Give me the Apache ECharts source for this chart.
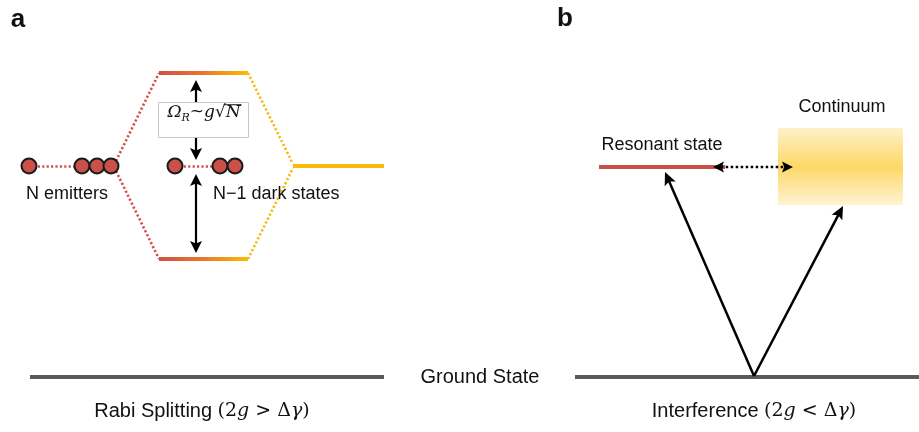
<!DOCTYPE html>
<html>
<head>
<meta charset="utf-8">
<script src="https://cdn.jsdelivr.net/npm/echarts@6/dist/echarts.min.js"></script>
<style>
  html, body { margin: 0; padding: 0; background: #ffffff; }
  #chart { width: 919px; height: 432px; }
</style>
</head>
<body>
<div id="chart"></div>
<script>
// Diagram geometry in plot units (x to the right, y downward).
// Segments are [x1, y1, x2, y2]; points are [x, y]; boxes are [left, top, right, bottom].
const splitLevels = [[159, 73, 248, 73], [159, 259, 248, 259]];
const cavityLevel = [[293, 166, 384, 166]];
const resonantLevel = [[599, 167, 725, 167]];
const groundLevels = [[30, 377, 384, 377], [575, 377, 919, 377]];

const emitterDots = [[29, 166], [82, 166], [97, 166], [111, 166]];
const darkStateDots = [[175, 166], [220, 166], [235, 166]];

const redDottedLinks = [[29, 166, 82, 166], [175, 166, 220, 166], [116, 161, 159, 73], [116, 171, 159, 259]];
const yellowDottedLinks = [[248, 73, 293, 164], [248, 259, 293, 168]];

const rabiArrows = [[196, 102, 196, 80], [196, 137, 196, 160]];
const rabiDoubleArrows = [[196, 174, 196, 253]];
const excitationArrows = [[754, 376, 665, 172], [754, 376, 843, 206]];
const couplingArrows = [[713, 167, 793, 167]];

const continuumBox = [[778, 128, 903, 205]];
const formulaBox = [[158, 102, 248, 137]];

const labelTexts = [
  'a', 'b', 'N emitters', 'N\u22121 dark states', 'Resonant state', 'Continuum', 'Ground State',
  '{s|Rabi Splitting }{m|(2}{i|g}{m| > \u0394}{i|\u03b3}{m|)}',
  '{s|Interference }{m|(2}{i|g}{m| < \u0394}{i|\u03b3}{m|)}'
];
const labelAnchors = [[18, 20], [565, 19], [67, 194], [213, 194], [662, 145], [842, 107], [480, 377], [202, 411], [754, 411]];

// Formula glyphs: Ω_R ~ g √N
const formulaGlyphs = ['\u03a9', 'R', '~', 'g', '\u221a', 'N'];

// ---------------------------------------------------------------------------
const SANS = '"Liberation Sans", Arial, sans-serif';
const SERIF = '"DejaVu Serif", serif';
const RED = '#c9514a';
const GOLD = '#f8bb08';

const labelStyles = [
  { fontSize: 26, fontWeight: 'bold', align: 'center' },
  { fontSize: 26, fontWeight: 'bold', align: 'center' },
  { fontSize: 18, align: 'center' },
  { fontSize: 18, align: 'left' },
  { fontSize: 18, align: 'center' },
  { fontSize: 18, align: 'center' },
  { fontSize: 20, align: 'center' },
  { fontSize: 20, align: 'center', math: true },
  { fontSize: 20, align: 'center', math: true }
];

const glyphStyles = [
  { size: 17, italic: true, dy: 0 },
  { size: 11, italic: true, dy: 4 },
  { size: 17, italic: false, dy: -1 },
  { size: 17, italic: true, dy: 0 },
  { size: 17, italic: false, dy: 0 },
  { size: 17, italic: true, dy: 0, over: true }
];

const measureCtx = document.createElement('canvas').getContext('2d');
function glyphFont(g) {
  return (g.italic ? 'italic ' : '') + g.size + 'px ' + SERIF;
}
function measure(text, font) {
  measureCtx.font = font;
  return measureCtx.measureText(text).width;
}

function segData(list) {
  return list.map(s => ({ coords: [[s[0], s[1]], [s[2], s[3]]] }));
}

function levelSeries(list, width, color, type) {
  return {
    type: 'lines',
    coordinateSystem: 'cartesian2d',
    silent: true,
    z: 2,
    lineStyle: { color: color, width: width, opacity: 1, type: type || 'solid', cap: 'butt' },
    data: segData(list)
  };
}

function arrowHead(tip, dir, len, wid, color) {
  const nx = -dir[1], ny = dir[0];
  const bx = tip[0] - dir[0] * len, by = tip[1] - dir[1] * len;
  const notch = [tip[0] - dir[0] * len * 0.8, tip[1] - dir[1] * len * 0.8];
  return {
    type: 'polygon',
    shape: { points: [tip, [bx + nx * wid / 2, by + ny * wid / 2], notch, [bx - nx * wid / 2, by - ny * wid / 2]] },
    style: { fill: color }
  };
}

function arrowSeries(list, opts) {
  return {
    type: 'custom',
    coordinateSystem: 'cartesian2d',
    silent: true,
    z: 5,
    data: list,
    renderItem: function (params, api) {
      const p0 = api.coord([api.value(0), api.value(1)]);
      const p1 = api.coord([api.value(2), api.value(3)]);
      const dx = p1[0] - p0[0], dy = p1[1] - p0[1];
      const d = Math.sqrt(dx * dx + dy * dy);
      const u = [dx / d, dy / d];
      const inset = opts.headLen * 0.7;
      const end = [p1[0] - u[0] * inset, p1[1] - u[1] * inset];
      const start = opts.both ? [p0[0] + u[0] * inset, p0[1] + u[1] * inset] : p0;
      const children = [{
        type: 'line',
        shape: { x1: start[0], y1: start[1], x2: end[0], y2: end[1] },
        style: { stroke: opts.color, lineWidth: opts.width, lineDash: opts.dash || null }
      }, arrowHead(p1, u, opts.headLen, opts.headWid, opts.color)];
      if (opts.both) children.push(arrowHead(p0, [-u[0], -u[1]], opts.headLen, opts.headWid, opts.color));
      return { type: 'group', children: children };
    }
  };
}

const chart = echarts.init(document.getElementById('chart'), null, { renderer: 'canvas' });

const levelGradient = new echarts.graphic.LinearGradient(0, 0, 1, 0, [
  { offset: 0, color: '#c94f4a' },
  { offset: 0.5, color: '#e9782c' },
  { offset: 1, color: '#fcbf04' }
]);
const continuumGradient = new echarts.graphic.LinearGradient(0, 0, 0, 1, [
  { offset: 0, color: '#fff1cb' },
  { offset: 0.5, color: '#fdd866' },
  { offset: 1, color: '#fff3d4' }
]);

chart.setOption({
  animation: false,
  backgroundColor: '#ffffff',
  grid: { left: 0, right: 0, top: 0, bottom: 0 },
  xAxis: { type: 'value', min: 0, max: 919, show: false },
  yAxis: { type: 'value', min: 0, max: 432, inverse: true, show: false },
  series: [
    // continuum band
    {
      type: 'custom',
      coordinateSystem: 'cartesian2d',
      silent: true,
      z: 1,
      data: continuumBox,
      renderItem: function (params, api) {
        const tl = api.coord([api.value(0), api.value(1)]);
        const br = api.coord([api.value(2), api.value(3)]);
        return {
          type: 'rect',
          shape: { x: tl[0], y: tl[1], width: br[0] - tl[0], height: br[1] - tl[1] },
          style: { fill: continuumGradient }
        };
      }
    },
    // dotted correlation lines
    levelSeries(redDottedLinks, 2.6, '#d0524a', [2.2, 2.2]),
    levelSeries(yellowDottedLinks, 2.6, '#f6b910', [2.2, 2.2]),
    // energy levels
    levelSeries(splitLevels, 4, levelGradient),
    levelSeries(cavityLevel, 4, GOLD),
    levelSeries(resonantLevel, 4, RED),
    levelSeries(groundLevels, 4, '#5a5a5a'),
    // emitters and dark states
    {
      type: 'scatter',
      silent: true,
      z: 4,
      symbol: 'circle',
      symbolSize: 15,
      itemStyle: { color: RED, borderColor: '#1a1a1a', borderWidth: 2, opacity: 1 },
      data: emitterDots.concat(darkStateDots)
    },
    // arrows
    arrowSeries(rabiArrows, { color: '#000', width: 2.2, headLen: 12, headWid: 12 }),
    arrowSeries(rabiDoubleArrows, { color: '#000', width: 2.2, headLen: 12, headWid: 12, both: true }),
    arrowSeries(excitationArrows, { color: '#000', width: 2.5, headLen: 13, headWid: 12 }),
    arrowSeries(couplingArrows, { color: '#000', width: 2.5, headLen: 11, headWid: 11, both: true, dash: [2.5, 2.5] }),
    // Rabi frequency formula in its box
    {
      type: 'custom',
      coordinateSystem: 'cartesian2d',
      silent: true,
      z: 6,
      data: formulaBox,
      renderItem: function (params, api) {
        const tl = api.coord([api.value(0), api.value(1)]);
        const br = api.coord([api.value(2), api.value(3)]);
        const children = [{
          type: 'rect',
          shape: { x: Math.round(tl[0]) + 0.5, y: Math.round(tl[1]) + 0.5, width: br[0] - tl[0], height: br[1] - tl[1] },
          style: { fill: '#ffffff', stroke: '#c6c6c6', lineWidth: 1 }
        }];
        const widths = formulaGlyphs.map((t, i) => measure(t, glyphFont(glyphStyles[i])));
        const total = widths.reduce((a, b) => a + b, 0);
        let x = (tl[0] + br[0]) / 2 - total / 2 + 1;
        const baseline = (tl[1] + br[1]) / 2 - 1.5;
        formulaGlyphs.forEach((t, i) => {
          const g = glyphStyles[i];
          children.push({
            type: 'text',
            style: {
              text: t,
              x: x,
              y: baseline + g.dy - 0.346 * g.size,
              font: glyphFont(g),
              fill: '#111111',
              align: 'left',
              verticalAlign: 'middle'
            }
          });
          if (g.over) {
            const yTop = baseline - 0.78 * g.size;
            children.push({
              type: 'line',
              shape: { x1: x - 2, y1: yTop, x2: x + widths[i] + 1, y2: yTop },
              style: { stroke: '#111111', lineWidth: 1 }
            });
          }
          x += widths[i];
        });
        return { type: 'group', children: children };
      }
    },
    // text labels
    {
      type: 'custom',
      coordinateSystem: 'cartesian2d',
      silent: true,
      z: 7,
      data: labelAnchors,
      renderItem: function (params, api) {
        const p = api.coord([api.value(0), api.value(1)]);
        const st = labelStyles[params.dataIndex];
        const style = {
          text: labelTexts[params.dataIndex],
          x: p[0],
          y: p[1],
          fill: '#111111',
          fontFamily: SANS,
          fontSize: st.fontSize,
          fontWeight: st.fontWeight || 'normal',
          align: st.align,
          verticalAlign: 'middle'
        };
        if (st.math) {
          style.rich = {
            s: { fontFamily: SANS, fontSize: st.fontSize, fill: '#111111' },
            m: { fontFamily: SERIF, fontSize: st.fontSize - 1, fill: '#111111' },
            i: { fontFamily: SERIF, fontSize: st.fontSize - 1, fontStyle: 'italic', fill: '#111111' }
          };
        }
        return { type: 'text', style: style };
      }
    }
  ]
});
</script>
</body>
</html>
